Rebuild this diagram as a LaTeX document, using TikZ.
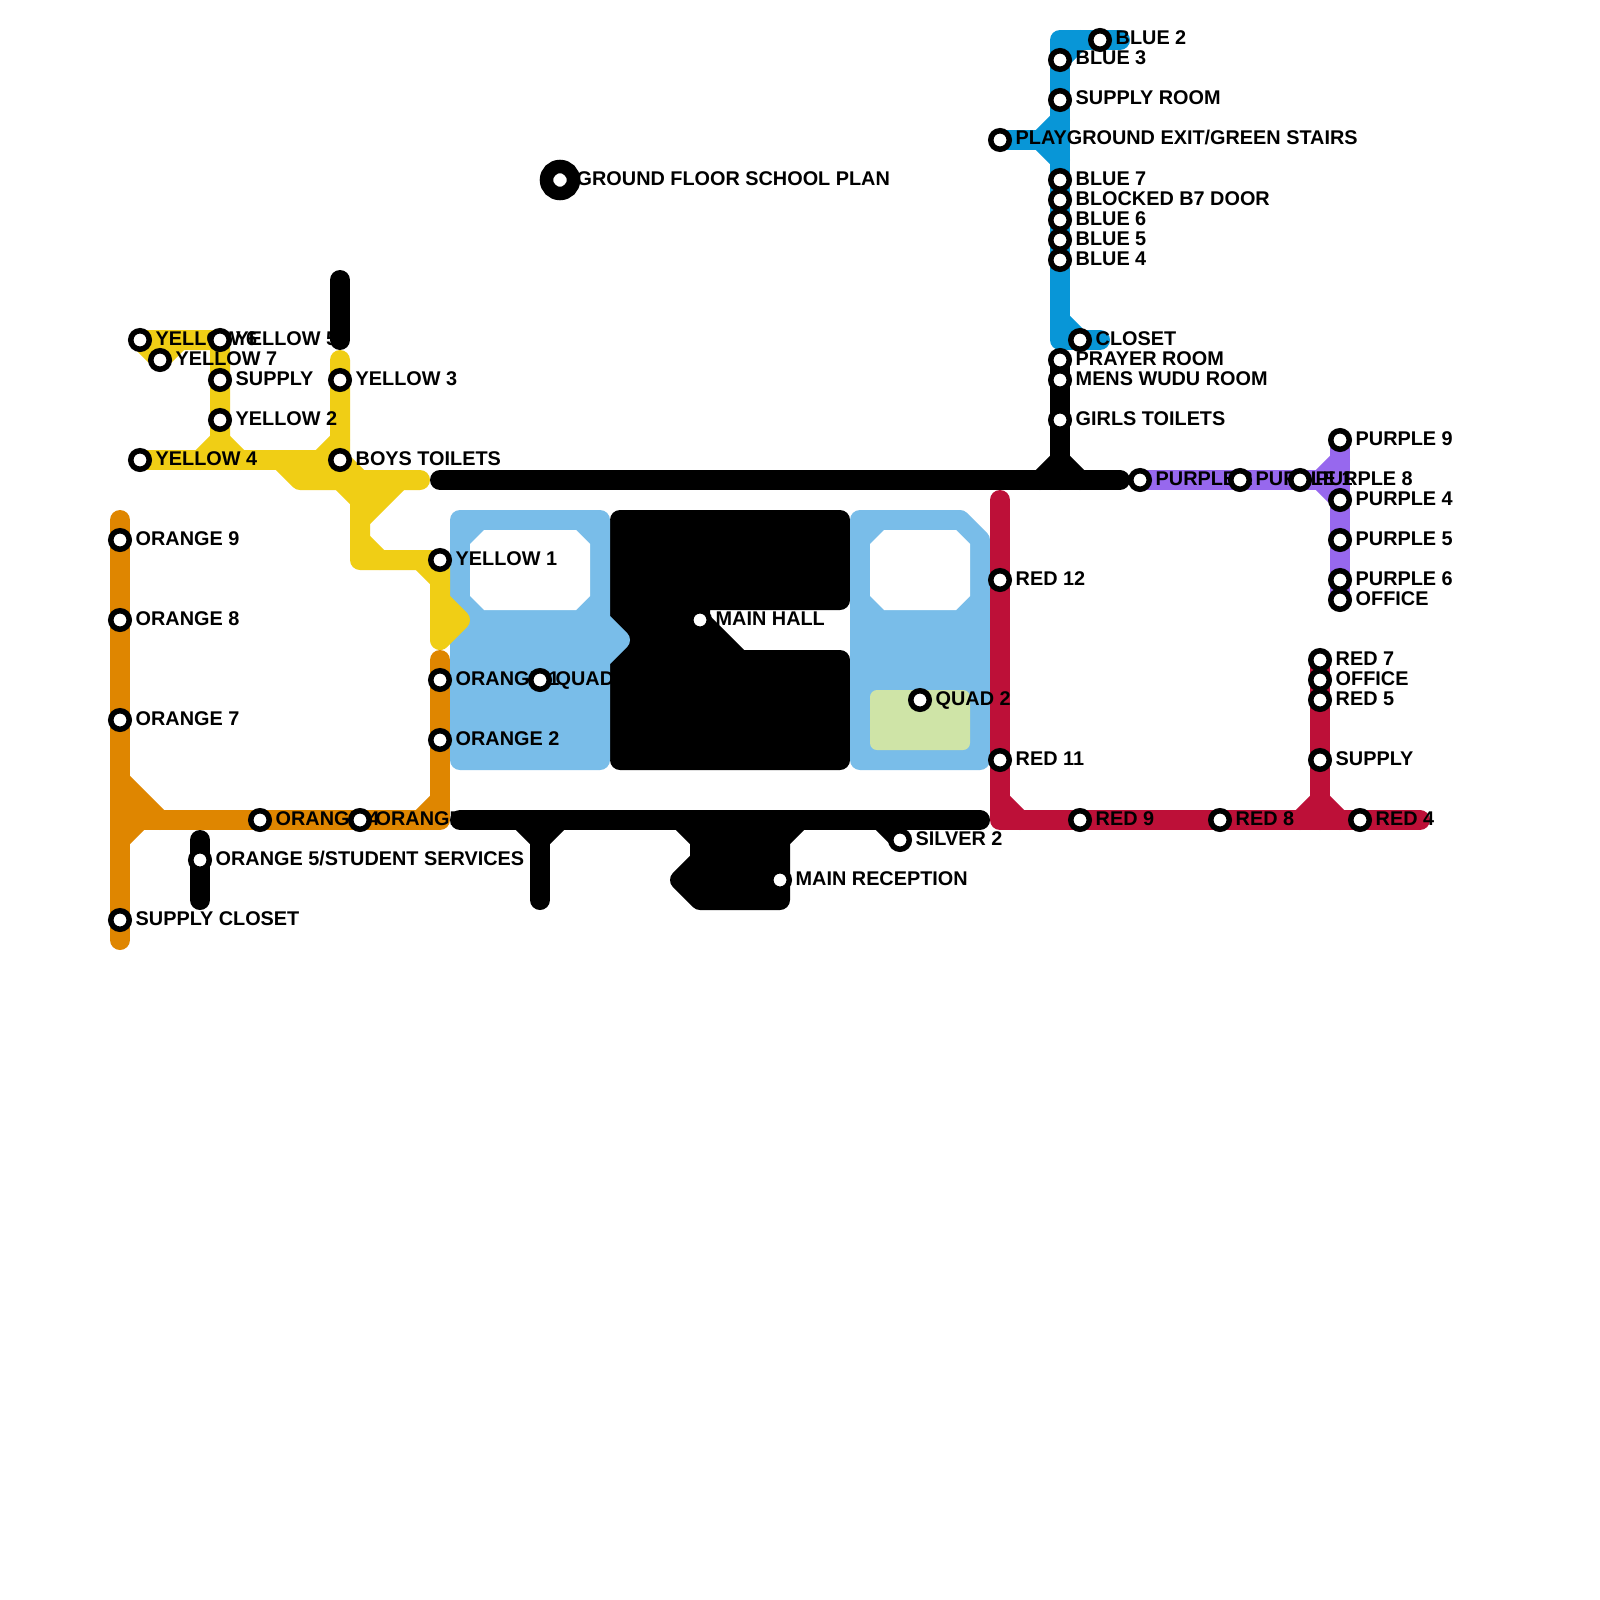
\documentclass[tikz,border=0pt]{standalone}
\usepackage{fontspec}
\setmainfont{Liberation Sans}
\definecolor{LineYellow}{HTML}{F0CE15}
\definecolor{LineOrange}{HTML}{DF8600}
\definecolor{LineBlue}{HTML}{0896D7}
\definecolor{LinePurple}{HTML}{9768EE}
\definecolor{LineRed}{HTML}{BD1038}
\definecolor{QuadBlue}{HTML}{79BDE9}
\definecolor{QuadGreen}{HTML}{CFE4A7}

\begin{document}
\begin{tikzpicture}[
    x=1pt, y=-1pt,
    track/.style={line width=20pt, line cap=round, line join=round},
    yel/.style={track, color=LineYellow},
    org/.style={track, color=LineOrange},
    blu/.style={track, color=LineBlue},
    pur/.style={track, color=LinePurple},
    crim/.style={track, color=LineRed},
    blk/.style={track, color=black},
    quad/.style={track, draw=QuadBlue, fill=QuadBlue},
    hall/.style={track, draw=black, fill=black},
    stn/.style={circle, draw=black, fill=white, line width=5.5pt, minimum size=18.5pt, inner sep=0pt},
    bigstn/.style={circle, draw=black, fill=white, line width=13.5pt, minimum size=27pt, inner sep=0pt},
    lbl/.style={anchor=base west, inner sep=0pt, xshift=0.5pt, yshift=-0.5pt,
                font=\fontsize{19.85}{24}\selectfont\bfseries, text=black},
  ]
    \useasboundingbox (0,0) rectangle (1600,1600);
    \fill[white] (0,0) rectangle (1600,1600);

    % Bloques negros
    \draw[hall] (620,520) -- (840,520) -- (840,600) -- (700,600) -- (700,620) -- (740,660)
        -- (840,660) -- (840,760) -- (620,760) -- cycle;
    \draw[hall] (680,820) -- (800,820) -- (780,840) -- (780,900) -- (700,900) -- (680,880)
        -- (700,860) -- (700,840) -- cycle;

    % Patios
    \draw[quad] (460,520) -- (600,520) -- (600,620) -- (620,640) -- (600,660) -- (600,760) -- (460,760) -- cycle;
    \draw[quad] (860,520) -- (960,520) -- (980,540) -- (980,760) -- (860,760) -- cycle;
    \fill[white] (484,530) -- (576,530) -- (590,544) -- (590,596) -- (576,610) -- (484,610) -- (470,596) -- (470,544) -- cycle;
    \fill[white] (884,530) -- (956,530) -- (970,544) -- (970,596) -- (956,610) -- (884,610) -- (870,596) -- (870,544) -- cycle;
    \fill[QuadGreen, rounded corners=7pt] (870,690) rectangle (970,750);

    % Linea amarilla
    \draw[yel] (140,340) -- (220,340) -- (220,440) -- (200,460);
    \draw[yel] (220,440) -- (240,460);
    \fill[LineYellow] (140,340) -- (180,340) -- (160,360) -- cycle;
    \draw[yel] (140,340) -- (160,360) -- (180,340);
    \draw[yel] (140,460) -- (340,460);
    \draw[yel] (280,460) -- (300,480) -- (420,480);
    \draw[yel] (320,460) -- (340,440);
    \draw[yel] (340,360) -- (340,460) -- (360,480);
    \fill[LineYellow] (340,480) -- (400,480) -- (360,520) -- cycle;
    \draw[yel] (340,480) -- (360,500) -- (360,560) -- (440,560);
    \draw[yel] (400,480) -- (360,520);
    \draw[yel] (360,540) -- (380,560);
    \draw[yel] (420,560) -- (440,580);
    \fill[LineYellow] (440,600) -- (460,620) -- (440,640) -- cycle;
    \draw[yel] (440,560) -- (440,640) -- (460,620) -- (440,600);

    % Linea naranja
    \draw[org] (120,520) -- (120,940);
    \fill[LineOrange] (120,780) -- (160,820) -- (120,820) -- cycle;
    \draw[org] (120,780) -- (160,820);
    \draw[org] (120,840) -- (140,820);
    \draw[org] (120,820) -- (440,820) -- (440,660);
    \draw[org] (420,820) -- (440,800);

    % Linea azul
    \draw[blu] (1120,40) -- (1060,40) -- (1060,340) -- (1100,340);
    \draw[blu] (1080,40) -- (1060,60);
    \draw[blu] (1060,120) -- (1040,140) -- (1060,160);
    \draw[blu] (1000,140) -- (1060,140);
    \draw[blu] (1060,320) -- (1080,340);

    % Linea morada
    \draw[pur] (1140,480) -- (1320,480);
    \draw[pur] (1340,440) -- (1340,600);
    \draw[pur] (1340,460) -- (1320,480) -- (1340,500);

    % Linea roja
    \draw[crim] (1000,500) -- (1000,820) -- (1420,820);
    \draw[crim] (1000,800) -- (1020,820);
    \draw[crim] (1320,660) -- (1320,820);
    \draw[crim] (1300,820) -- (1320,800) -- (1340,820);

    % Tramos negros
    \draw[blk] (340,280) -- (340,340);
    \draw[blk] (200,840) -- (200,900);
    \draw[blk] (440,480) -- (1120,480);
    \draw[blk] (1060,360) -- (1060,480);
    \draw[blk] (1040,480) -- (1060,460) -- (1080,480);
    \draw[blk] (460,820) -- (980,820);
    \draw[blk] (520,820) -- (540,840) -- (560,820);
    \draw[blk] (540,820) -- (540,900);
    \draw[blk] (880,820) -- (900,840);

    % Rotulos
    \node[lbl] (tplan) at (576,184.5) {GROUND FLOOR SCHOOL PLAN};
    \node[lbl] (ty6)   at (155,344.5) {YELLOW 6};
    \node[lbl] (ty5)   at (235,344.5) {YELLOW 5};
    \node[lbl] (ty7)   at (175,364.5) {YELLOW 7};
    \node[lbl] (tysup) at (235,384.5) {SUPPLY};
    \node[lbl] (ty2)   at (235,424.5) {YELLOW 2};
    \node[lbl] (ty3)   at (355,384.5) {YELLOW 3};
    \node[lbl] (ty4)   at (155,464.5) {YELLOW 4};
    \node[lbl] (tboys) at (355,464.5) {BOYS TOILETS};
    \node[lbl] (ty1)   at (455,564.5) {YELLOW 1};

    \node[lbl] (to9)   at (135,544.5) {ORANGE 9};
    \node[lbl] (to8)   at (135,624.5) {ORANGE 8};
    \node[lbl] (to7)   at (135,724.5) {ORANGE 7};
    \node[lbl] (tosc)  at (135,924.5) {SUPPLY CLOSET};
    \node[lbl] (to4)   at (275,824.5) {ORANGE 4};
    \node[lbl] (to3)   at (375,824.5) {ORANGE 3};
    \node[lbl] (to5)   at (215,864.5) {ORANGE 5/STUDENT SERVICES};
    \node[lbl] (to1)   at (455,684.5) {ORANGE 1};
    \node[lbl] (to2)   at (455,744.5) {ORANGE 2};
    \node[lbl] (tq1)   at (555,684.5) {QUAD 1};
    \node[lbl] (tq2)   at (935,704.5) {QUAD 2};
    \node[lbl] (thall) at (715,624.5) {MAIN HALL};
    \node[lbl] (trec)  at (795,884.5) {MAIN RECEPTION};
    \node[lbl] (tsil)  at (915,844.5) {SILVER 2};

    \node[lbl] (tb2)   at (1115,44.5)  {BLUE 2};
    \node[lbl] (tb3)   at (1075,64.5)  {BLUE 3};
    \node[lbl] (tbsup) at (1075,104.5) {SUPPLY ROOM};
    \node[lbl] (tplay) at (1015,144.5) {PLAYGROUND EXIT/GREEN STAIRS};
    \node[lbl] (tb7)   at (1075,184.5) {BLUE 7};
    \node[lbl] (tbb7)  at (1075,204.5) {BLOCKED B7 DOOR};
    \node[lbl] (tb6)   at (1075,224.5) {BLUE 6};
    \node[lbl] (tb5)   at (1075,244.5) {BLUE 5};
    \node[lbl] (tb4)   at (1075,264.5) {BLUE 4};
    \node[lbl] (tclos) at (1095,344.5) {CLOSET};
    \node[lbl] (tpray) at (1075,364.5) {PRAYER ROOM};
    \node[lbl] (twudu) at (1075,384.5) {MENS WUDU ROOM};
    \node[lbl] (tgirl) at (1075,424.5) {GIRLS TOILETS};

    \node[lbl] (tp2)   at (1155,484.5) {PURPLE 2};
    \node[lbl] (tp1)   at (1255,484.5) {PURPLE 1};
    \node[lbl] (tp8)   at (1315,484.5) {PURPLE 8};
    \node[lbl] (tp9)   at (1355,444.5) {PURPLE 9};
    \node[lbl] (tp4)   at (1355,504.5) {PURPLE 4};
    \node[lbl] (tp5)   at (1355,544.5) {PURPLE 5};
    \node[lbl] (tp6)   at (1355,584.5) {PURPLE 6};
    \node[lbl] (tpof)  at (1355,604.5) {OFFICE};

    \node[lbl] (tr12)  at (1015,584.5) {RED 12};
    \node[lbl] (tr11)  at (1015,764.5) {RED 11};
    \node[lbl] (tr9)   at (1095,824.5) {RED 9};
    \node[lbl] (tr8)   at (1235,824.5) {RED 8};
    \node[lbl] (tr4)   at (1375,824.5) {RED 4};
    \node[lbl] (trsup) at (1335,764.5) {SUPPLY};
    \node[lbl] (tr5)   at (1335,704.5) {RED 5};
    \node[lbl] (trof)  at (1335,684.5) {OFFICE};
    \node[lbl] (tr7)   at (1335,664.5) {RED 7};

    % Estaciones
    \node[bigstn] (plan) at (560,180) {};
    \node[stn] (y6)   at (140,340) {};
    \node[stn] (y5)   at (220,340) {};
    \node[stn] (y7)   at (160,360) {};
    \node[stn] (ysup) at (220,380) {};
    \node[stn] (y2)   at (220,420) {};
    \node[stn] (y3)   at (340,380) {};
    \node[stn] (y4)   at (140,460) {};
    \node[stn] (boys) at (340,460) {};
    \node[stn] (y1)   at (440,560) {};

    \node[stn] (o9)   at (120,540) {};
    \node[stn] (o8)   at (120,620) {};
    \node[stn] (o7)   at (120,720) {};
    \node[stn] (osc)  at (120,920) {};
    \node[stn] (o4)   at (260,820) {};
    \node[stn] (o3)   at (360,820) {};
    \node[stn] (o5)   at (200,860) {};
    \node[stn] (o1)   at (440,680) {};
    \node[stn] (o2)   at (440,740) {};
    \node[stn] (q1)   at (540,680) {};
    \node[stn] (q2)   at (920,700) {};
    \node[stn] (mhall) at (700,620) {};
    \node[stn] (rec)  at (780,880) {};
    \node[stn] (sil)  at (900,840) {};

    \node[stn] (b2)   at (1100,40)  {};
    \node[stn] (b3)   at (1060,60)  {};
    \node[stn] (bsup) at (1060,100) {};
    \node[stn] (play) at (1000,140) {};
    \node[stn] (b7)   at (1060,180) {};
    \node[stn] (bb7)  at (1060,200) {};
    \node[stn] (b6)   at (1060,220) {};
    \node[stn] (b5)   at (1060,240) {};
    \node[stn] (b4)   at (1060,260) {};
    \node[stn] (clos) at (1080,340) {};
    \node[stn] (pray) at (1060,360) {};
    \node[stn] (wudu) at (1060,380) {};
    \node[stn] (girl) at (1060,420) {};

    \node[stn] (p2)   at (1140,480) {};
    \node[stn] (p1)   at (1240,480) {};
    \node[stn] (p8)   at (1300,480) {};
    \node[stn] (p9)   at (1340,440) {};
    \node[stn] (p4)   at (1340,500) {};
    \node[stn] (p5)   at (1340,540) {};
    \node[stn] (p6)   at (1340,580) {};
    \node[stn] (pof)  at (1340,600) {};

    \node[stn] (r12)  at (1000,580) {};
    \node[stn] (r11)  at (1000,760) {};
    \node[stn] (r9)   at (1080,820) {};
    \node[stn] (r8)   at (1220,820) {};
    \node[stn] (r4)   at (1360,820) {};
    \node[stn] (rsup) at (1320,760) {};
    \node[stn] (r5)   at (1320,700) {};
    \node[stn] (rof)  at (1320,680) {};
    \node[stn] (r7)   at (1320,660) {};
  \end{tikzpicture}
\end{document}
